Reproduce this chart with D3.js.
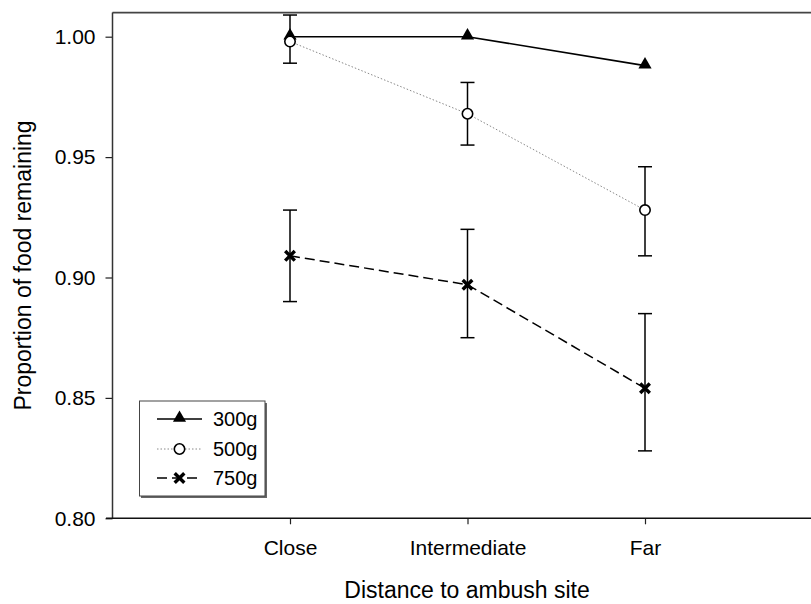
<!DOCTYPE html>
<html><head><meta charset="utf-8">
<script src="https://cdn.jsdelivr.net/npm/d3@7"></script>
<style>body{margin:0;background:#fff}svg{display:block}text{font-family:"Liberation Sans",Arial,sans-serif}</style>
</head><body>
<script>
const categories = ["Close","Intermediate","Far"];
const series = ["300g","500g","750g"];
const means300 = [1.000, 1.000, 0.988];
const err300lo = [1.000, 1.000, 0.988];
const err300hi = [1.000, 1.000, 0.988];
const means500 = [0.998, 0.968, 0.928];
const err500lo = [0.989, 0.955, 0.909];
const err500hi = [1.009, 0.981, 0.946];
const means750 = [0.909, 0.897, 0.854];
const err750lo = [0.890, 0.875, 0.828];
const err750hi = [0.928, 0.920, 0.885];
const yTicks = [0.80, 0.85, 0.90, 0.95, 1.00];
const yLabel = "Proportion of food remaining";
const xLabel = "Distance to ambush site";

const W = 811, H = 604;
const svg = d3.select("body").append("svg").attr("width", W).attr("height", H);

const x = d3.scaleLinear().domain([0, 4]).range([112.5, 822.5]);
const y = d3.scaleLinear().domain([0.80, 1.00]).range([518.3, 36.7]);
const yTop = y(1.01);

// frame
svg.append("line").attr("x1", 112.5).attr("x2", W).attr("y1", yTop).attr("y2", yTop)
  .attr("stroke", "#444").attr("stroke-width", 1.6);

// y axis
const yAxis = d3.axisLeft(y).tickValues(yTicks).tickFormat(d3.format(".2f")).tickSize(7).tickPadding(10);
const gy = svg.append("g").attr("transform", "translate(112.5,0)").call(yAxis);
gy.select(".domain").remove();
gy.append("line").attr("x1", 0).attr("x2", 0).attr("y1", yTop).attr("y2", y(0.8)).attr("stroke", "#333").attr("stroke-width", 1.5);
gy.selectAll(".tick line").attr("stroke", "#222").attr("stroke-width", 1.2);
gy.selectAll(".tick text").attr("font-size", 21).attr("fill", "#000")
  .style("font-family", "'Liberation Sans', Arial, sans-serif");

// x axis
const xAxis = d3.axisBottom(x).tickValues([1,2,3]).tickFormat(d => categories[d-1]).tickSize(6).tickPadding(16);
const gx = svg.append("g").attr("transform", `translate(0,${y(0.8)})`).call(xAxis);
gx.select(".domain").remove();
gx.append("line").attr("x1", 106).attr("x2", W).attr("y1", 0).attr("y2", 0).attr("stroke", "#111").attr("stroke-width", 1.5);
gx.selectAll(".tick line").attr("stroke", "#222").attr("stroke-width", 1.2);
gx.selectAll(".tick text").attr("font-size", 21).attr("fill", "#000")
  .style("font-family", "'Liberation Sans', Arial, sans-serif");

// axis titles
svg.append("text").attr("transform", `translate(31,${(yTop + y(0.8))/2}) rotate(-90)`)
  .attr("text-anchor", "middle").attr("font-size", 23).text(yLabel);
svg.append("text").attr("x", 467).attr("y", 598).attr("text-anchor", "middle")
  .attr("font-size", 23).text(xLabel);

const idx = [0,1,2];
const line = d3.line().x((d,i) => x(i+1)).y(d => y(d));

// lines
svg.append("path").attr("d", line(means500)).attr("fill","none").attr("stroke","#888").attr("stroke-width",1).attr("stroke-dasharray","1.5,2");
svg.append("path").attr("d", line(means750)).attr("fill","none").attr("stroke","#000").attr("stroke-width",1.5).attr("stroke-dasharray","10,5");
svg.append("path").attr("d", line(means300)).attr("fill","none").attr("stroke","#000").attr("stroke-width",1.6);

// error bars
function errBars(lo, hi) {
  const g = svg.append("g").attr("stroke", "#000").attr("stroke-width", 1.5);
  idx.forEach(i => {
    if (hi[i] - lo[i] <= 0) return;
    const cx = x(i+1);
    g.append("line").attr("x1", cx).attr("x2", cx).attr("y1", y(lo[i])).attr("y2", y(hi[i]));
    g.append("line").attr("x1", cx-7).attr("x2", cx+7).attr("y1", y(lo[i])).attr("y2", y(lo[i]));
    g.append("line").attr("x1", cx-7).attr("x2", cx+7).attr("y1", y(hi[i])).attr("y2", y(hi[i]));
  });
}
errBars(err300lo, err300hi);
errBars(err500lo, err500hi);
errBars(err750lo, err750hi);

// markers
const tri = d3.symbol().type(d3.symbolTriangle).size(75);
function drawTri(g, cx, cy){ g.append("path").attr("d", tri()).attr("transform", `translate(${cx},${cy})`).attr("fill","#000"); }
function drawCirc(g, cx, cy){ g.append("circle").attr("cx",cx).attr("cy",cy).attr("r",5.2).attr("fill","#fff").attr("stroke","#000").attr("stroke-width",1.6); }
function drawX(g, cx, cy){ const s=4.8; g.append("path").attr("d",`M${cx-s},${cy-s}L${cx+s},${cy+s}M${cx-s},${cy+s}L${cx+s},${cy-s}`).attr("stroke","#000").attr("stroke-width",3.4); }

const gm = svg.append("g");
idx.forEach(i => drawX(gm, x(i+1), y(means750[i])));
idx.forEach(i => drawTri(gm, x(i+1), y(means300[i])-1));
idx.forEach(i => drawCirc(gm, x(i+1), y(means500[i])));

// legend
const lg = svg.append("g");
lg.append("rect").attr("x", 141).attr("y", 403).attr("width", 126).attr("height", 95).attr("fill", "#666");
lg.append("rect").attr("x", 139.5).attr("y", 401).attr("width", 125.5).attr("height", 95).attr("fill", "#fff").attr("stroke", "#444").attr("stroke-width", 1);
const rows = [419, 449, 478];
const styles = [
  {stroke:"#000", w:1.5, dash:null, m:drawTri},
  {stroke:"#888", w:1, dash:"1.5,2", m:drawCirc},
  {stroke:"#000", w:1.5, dash:"10,5", m:drawX}
];
series.forEach((s, i) => {
  const st = styles[i];
  const l = lg.append("line").attr("x1", 157).attr("x2", 202).attr("y1", rows[i]).attr("y2", rows[i])
    .attr("stroke", st.stroke).attr("stroke-width", st.w);
  if (st.dash) l.attr("stroke-dasharray", st.dash);
  st.m(lg, 179.5, i === 0 ? rows[i]-1 : rows[i]);
  lg.append("text").attr("x", 213).attr("y", rows[i]).attr("dy", "0.35em").attr("font-size", 20).text(s);
});
</script>
</body></html>
